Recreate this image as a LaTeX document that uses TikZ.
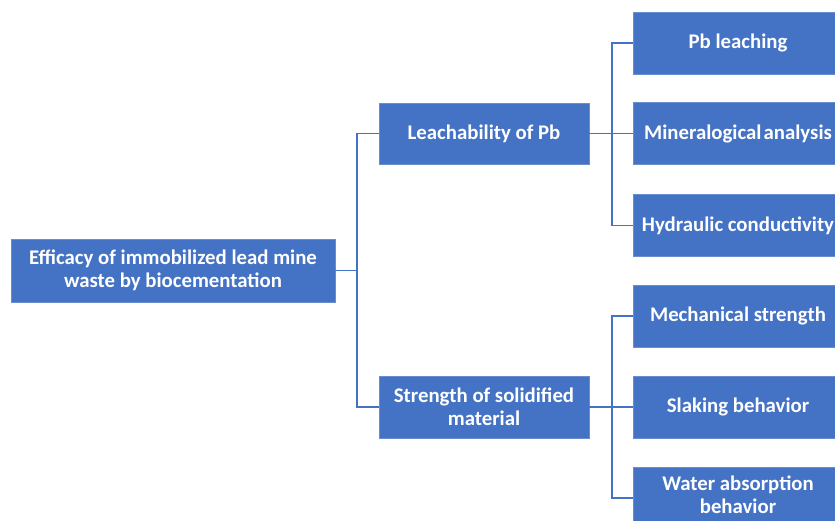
\documentclass[tikz,border=0pt]{standalone}
\usepackage{fontspec}
\setmainfont{Carlito}
\definecolor{boxblue}{HTML}{4472C4}
\definecolor{lineblue}{HTML}{4472C4}
\begin{document}
\begin{tikzpicture}[x=1pt,y=-1pt,
  blk/.style={rectangle, fill=boxblue, draw=boxblue!80!white, line width=0.6pt, text=white,
    font=\fontsize{20.8}{22.5}\selectfont\bfseries, align=center, inner sep=0pt,
    minimum width=210pt, minimum height=62pt},
  link/.style={draw=lineblue, line width=1.8pt}]
\useasboundingbox (0,0) rectangle (835,520);
\fill[white] (0,0) rectangle (835,520);
\node[blk, minimum width=324pt, minimum height=63pt] (root) at (173,270.5) {Efficacy of immobilized lead mine\\waste by biocementation};
\node[blk, minimum height=61pt] (leach) at (484,133.5) {Leachability of Pb};
\node[blk] (strength) at (484,407) {Strength of solidified\\material};
\node[blk] (r1) at (738,43) {Pb leaching};
\node[blk] (r2) at (738,133.5) {Mineralogical\hspace{0.1em}analysis};
\node[blk] (r3) at (738,225.5) {Hydraulic conductivity};
\node[blk] (r4) at (738,316) {Mechanical strength};
\node[blk] (r5) at (738,407) {Slaking behavior};
\node[blk, minimum height=62pt] (r6) at (738,498) {Water absorption\\behavior\vphantom{p}\\[-16pt]};
\coordinate (bl) at (357,270.5);
\coordinate (br1) at (612,133.5);
\coordinate (br2) at (612,407);
\draw[link] (root.east) -- (bl);
\draw[link] (leach.west) -| (bl) |- (strength.west);
\draw[link] (leach.east) -- (r2.west);
\draw[link] (r1.west) -| (br1) |- (r3.west);
\draw[link] (strength.east) -- (r5.west);
\draw[link] (r4.west) -| (br2) |- (r6.west);
\end{tikzpicture}
\end{document}
